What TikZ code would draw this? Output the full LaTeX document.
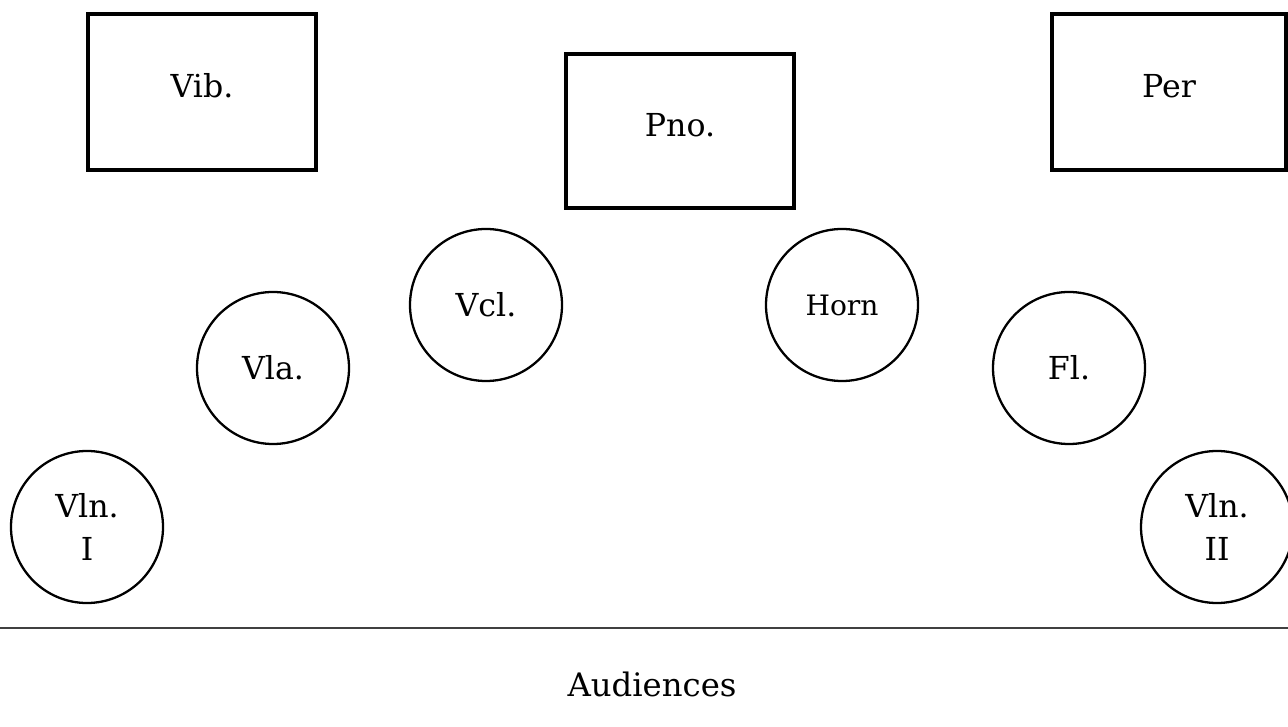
\documentclass[tikz,border=0pt]{standalone}
\usepackage{fontspec}
\setmainfont{DejaVu Serif}
\usepackage{tikz}
\tikzset{
  instbox/.style = {draw=black, line width=2pt, rectangle, inner sep=0pt,
    minimum width=4.56cm, minimum height=3.12cm, text height=13pt, text depth=7pt,
    font=\fontsize{18}{22}\selectfont},% boxed instrument
  instcirc/.style = {draw=black, line width=1.3pt, circle, inner sep=0pt,
    minimum size=3.04cm, align=center, font=\fontsize{18}{22}\selectfont}% player circle
}

\begin{document}
\begin{tikzpicture}
    \useasboundingbox (0,0) rectangle (25.76,14.52);
    \node [instbox] (vib) at (4.04,12.68) {Vib.};
    \node [instbox, minimum height=3.08cm] (pno) at (13.6,11.9) {Pno.};
    \node [instbox, minimum width=4.68cm] (per) at (23.38,12.68) {Per};
    \node [instcirc] (vcl) at (9.72,8.42) {Vcl.};
    \node [instcirc, font=\fontsize{16}{20}\selectfont] (horn) at (16.84,8.42) {Horn};
    \node [instcirc] (vla) at (5.46,7.16) {Vla.};
    \node [instcirc] (fl) at (21.38,7.16) {Fl.};
    \node [instcirc, text depth=0pt] (vlnI) at (1.74,3.98) {Vln.\\[2pt]I};
    \node [instcirc, text depth=0pt] (vlnII) at (24.34,3.98) {Vln.\\[2pt]II};
    \coordinate (stageL) at (0,1.96);
    \coordinate (stageR) at (25.76,1.96);
    \draw [line width=0.8pt, black!75] (stageL) -- (stageR);
    \node [font=\fontsize{18.4}{23}\selectfont] (aud) at (13.04,0.84) {Audiences};
\end{tikzpicture}
\end{document}
